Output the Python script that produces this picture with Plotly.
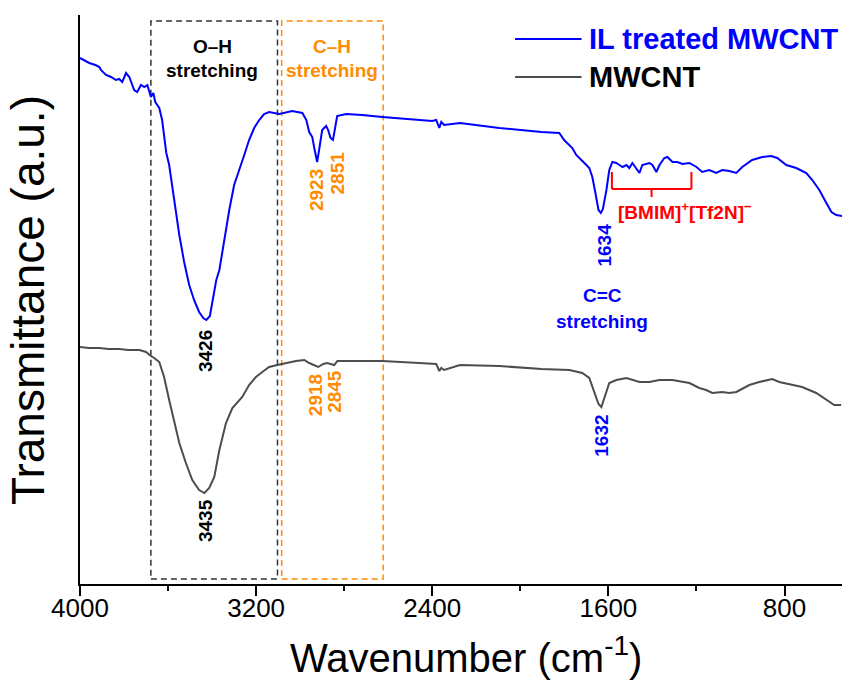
import plotly.graph_objects as go

# ---------------- data ----------------
wn_il = [4000, 3958, 3930, 3912, 3905, 3882, 3859, 3837, 3822, 3808, 3791, 3776, 3754, 3740,
         3723, 3708, 3694, 3678, 3667, 3658, 3649, 3640, 3627, 3608, 3595, 3572, 3549, 3527,
         3504, 3482, 3459, 3440, 3426, 3410, 3395, 3381, 3367, 3345, 3322, 3300, 3286, 3277,
         3254, 3232, 3209, 3186, 3164, 3141, 3095, 3036, 2990, 2972, 2959, 2945, 2935, 2923,
         2914, 2900, 2882, 2873, 2862, 2851, 2843, 2832, 2791, 2718, 2627, 2459, 2400, 2382,
         2368, 2359, 2346, 2274, 2096, 1904, 1823, 1801, 1777, 1764, 1746, 1732, 1719, 1700,
         1687, 1673, 1659, 1645, 1634, 1625, 1609, 1596, 1582, 1564, 1550, 1536, 1518, 1505,
         1491, 1473, 1459, 1446, 1414, 1400, 1382, 1368, 1346, 1332, 1309, 1287, 1264, 1232,
         1200, 1174, 1142, 1110, 1083, 1051, 1019, 992, 947, 901, 860, 833, 792, 747, 701,
         674, 642, 610, 587, 565, 538]
t_il = [526, 521, 519, 517, 514, 509, 507, 504, 505, 502, 511, 507, 494, 492,
        499, 497, 499, 487, 491, 482, 479, 476, 464, 431, 419, 384, 349, 322,
        299, 284, 272, 266, 264, 268, 285, 304, 314, 344, 374, 399, 409, 414,
        429, 444, 456, 464, 470, 472, 470, 473, 471, 464, 452, 447, 435, 422,
        434, 454, 458, 454, 446, 444, 454, 468, 470, 469, 467, 464, 463, 464,
        456, 462, 459, 461, 456, 452, 451, 444, 439, 436, 429, 426, 424, 419,
        416, 407, 391, 374, 371, 375, 394, 414, 422, 421, 419, 417, 419, 416,
        421, 416, 411, 419, 421, 419, 412, 419, 426, 427, 422, 422, 420, 421,
        417, 412, 414, 411, 414, 413, 411, 417, 424, 427, 428, 426, 419, 416, 411,
        404, 394, 381, 372, 369, 368]

wn_mw = [4000, 3960, 3912, 3870, 3822, 3780, 3730, 3700, 3678, 3663, 3640, 3618, 3595, 3572,
         3549, 3519, 3490, 3459, 3435, 3413, 3390, 3367, 3337, 3308, 3286, 3263, 3232, 3201,
         3172, 3141, 3104, 3064, 3019, 2981, 2959, 2918, 2895, 2877, 2845, 2831, 2763, 2627,
         2459, 2382, 2368, 2359, 2346, 2274, 2096, 1904, 1777, 1719, 1687, 1664, 1645, 1632,
         1618, 1596, 1564, 1518, 1459, 1414, 1368, 1309, 1232, 1187, 1156, 1128, 1083, 1051,
         1019, 960, 915, 856, 824, 779, 720, 656, 610, 574, 543]
t_mw = [237, 236, 236, 235, 235, 234, 234, 232, 228, 226, 222, 207, 184, 161,
        141, 121, 104, 94, 91, 96, 107, 134, 161, 176, 181, 187, 199, 207,
        212, 217, 219, 221, 223, 224, 221, 217, 220, 221, 219, 223, 223, 223,
        221, 220, 213, 216, 214, 219, 218, 215, 214, 211, 206, 191, 180, 177,
        187, 201, 204, 206, 202, 202, 204, 204, 201, 196, 194, 191, 192, 191,
        192, 199, 202, 205, 202, 200, 197, 191, 184, 179, 179]

series_names = ["IL treated MWCNT", "MWCNT"]
series_colors = ["#0000FF", "#4D4D4D"]

x_ticks = [4000, 3200, 2400, 1600, 800]
x_minor = [3600, 2800, 2000, 1200]
x_range = [4000, 539]
y_range = [0, 569]

# peak labels: (text, wavenumber, y, colour)
peak_labels = [
    ("3426", 3432, 233, "#000000"),
    ("3435", 3432, 63, "#000000"),
    ("2923", 2928, 394, "#FF8C00"),
    ("2851", 2835, 411, "#FF8C00"),
    ("2918", 2932, 189, "#FF8C00"),
    ("2845", 2847, 193, "#FF8C00"),
    ("1634", 1622, 339, "#0000FF"),
    ("1632", 1635, 148, "#0000FF"),
]

# ---------------- figure ----------------
fig = go.Figure()
fig.add_trace(go.Scatter(x=wn_mw, y=t_mw, mode="lines", name=series_names[1],
                         line=dict(color=series_colors[1], width=2)))
fig.add_trace(go.Scatter(x=wn_il, y=t_il, mode="lines", name=series_names[0],
                         line=dict(color=series_colors[0], width=2)))

shapes = []
shapes.append(dict(type="rect", xref="x", yref="y", x0=3678, x1=3103, y0=5, y1=563,
                   line=dict(color="#333333", width=1.5, dash="6px,4px"), layer="below"))
shapes.append(dict(type="rect", xref="x", yref="y", x0=3084, x1=2623, y0=5, y1=563,
                   line=dict(color="#FF8C00", width=1.5, dash="6px,4px"), layer="below"))
red = "#FF0000"
for (xa, ya, xb, yb) in [(1584, 412, 1584, 395), (1584, 395, 1223, 395),
                         (1223, 395, 1223, 412), (1404, 395, 1404, 387)]:
    shapes.append(dict(type="line", xref="x", yref="y", x0=xa, y0=ya, x1=xb, y1=yb,
                       line=dict(color=red, width=2)))
shapes.append(dict(type="line", xref="x", yref="y", x0=2024, x1=1722, y0=545, y1=545,
                   line=dict(color=series_colors[0], width=2)))
shapes.append(dict(type="line", xref="x", yref="y", x0=2024, x1=1722, y0=507, y1=507,
                   line=dict(color=series_colors[1], width=2)))

ann = []
lab_font = "Liberation Sans, Arial, sans-serif"
for txt_, x, y, c in peak_labels:
    ann.append(dict(x=x, y=y, xref="x", yref="y", text="<b>%s</b>" % txt_, textangle=-90,
                    showarrow=False, font=dict(size=19, color=c, family=lab_font),
                    xanchor="center", yanchor="middle"))

def txt(x, y, s, c, size=19, xanchor="center"):
    ann.append(dict(x=x, y=y, xref="x", yref="y", text=s, showarrow=False,
                    font=dict(size=size, color=c, family=lab_font),
                    xanchor=xanchor, yanchor="middle"))

txt(3400, 538, "<b>O\u2013H</b>", "#000000")
txt(3400, 514, "<b>stretching</b>", "#000000")
txt(2855, 538, "<b>C\u2013H</b>", "#FF8C00")
txt(2855, 514, "<b>stretching</b>", "#FF8C00")
txt(1629, 289, "<b>C=C</b>", "#0000FF")
txt(1627, 263, "<b>stretching</b>", "#0000FF")
txt(1564, 373, "<b>[BMIM]<sup>+</sup>[Tf2N]<sup>\u2212</sup></b>", red, xanchor="left")
txt(1697, 545, "<b>%s</b>" % series_names[0], series_colors[0], size=29, xanchor="left")
txt(1697, 507, "<b>%s</b>" % series_names[1], "#000000", size=29, xanchor="left")

ann.append(dict(x=-0.069, y=0.5, xref="paper", yref="paper", text="Transmittance (a.u.)",
                textangle=-90, showarrow=False, xanchor="center", yanchor="middle",
                font=dict(size=46, color="#000000", family=lab_font)))
ann.append(dict(x=0.5066, y=-0.125, xref="paper", yref="paper",
                text="Wavenumber (cm<sup>-1</sup>)", showarrow=False,
                xanchor="center", yanchor="middle",
                font=dict(size=40, color="#000000", family=lab_font)))

fig.update_layout(
    width=842, height=680,
    margin=dict(l=80, r=0, t=15, b=96, autoexpand=False),
    paper_bgcolor="white", plot_bgcolor="white",
    showlegend=False,
    shapes=shapes, annotations=ann,
    font=dict(family=lab_font, color="#000000"),
)
fig.update_xaxes(range=x_range, tickmode="array", tickvals=x_ticks,
                 ticktext=[str(v) for v in x_ticks], automargin=False,
                 ticks="outside", ticklen=10, tickwidth=2, tickcolor="#000000",
                 ticklabelstandoff=-10,
                 showline=True, linecolor="#000000", linewidth=2,
                 showgrid=False, zeroline=False,
                 tickfont=dict(size=26, color="#000000", family=lab_font),
                 minor=dict(tickvals=x_minor, ticks="outside", ticklen=5, tickwidth=2,
                            tickcolor="#000000", showgrid=False))
fig.update_yaxes(range=y_range, showticklabels=False, ticks="", automargin=False,
                 showline=True, linecolor="#000000", linewidth=2,
                 showgrid=False, zeroline=False)

fig.write_html("out.html", config={"displayModeBar": False},
               post_script="document.body.style.margin='0px';document.body.style.overflow='hidden';")
